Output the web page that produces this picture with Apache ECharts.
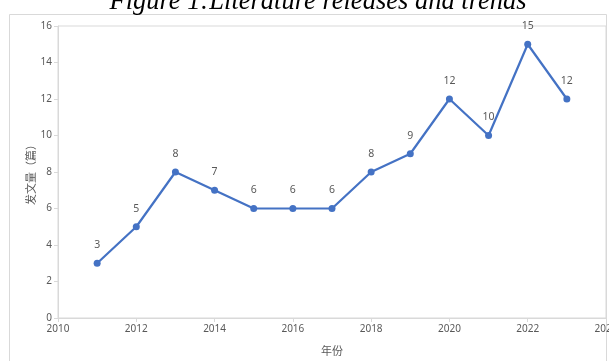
<!DOCTYPE html>
<html><head><meta charset="utf-8">
<script src="https://cdn.jsdelivr.net/npm/echarts@6/dist/echarts.min.js"></script>
<style>html,body{margin:0;padding:0;background:#fff}#c{width:609px;height:361px}</style>
</head><body><div id="c"></div>
<script>
const years = [2011, 2012, 2013, 2014, 2015, 2016, 2017, 2018, 2019, 2020, 2021, 2022, 2023];
const counts = [3, 5, 8, 7, 6, 6, 6, 8, 9, 12, 10, 15, 12];
const titleText = 'Figure 1:Literature releases and trends';
const xName = '年份';
const yName = '发文量（篇）';

const chart = echarts.init(document.getElementById('c'), null, {renderer: 'canvas'});
chart.setOption({
  animation: false,
  backgroundColor: '#fff',
  title: {
    text: titleText, left: 313, textAlign: 'center', top: -16,
    textStyle: {fontFamily: 'Liberation Serif', fontStyle: 'italic', fontWeight: 'normal', fontSize: 26.5, color: '#000'}
  },
  graphic: [{
    type: 'rect', shape: {x: 9.5, y: 14.5, width: 597, height: 360},
    style: {fill: 'none', stroke: '#d9d9d9', lineWidth: 1}, z: -1
  }],
  grid: {left: 58, right: 3, top: 26, bottom: 43, show: true, borderColor: '#d9d9d9', borderWidth: 1,
    outerBoundsMode: 'none', containLabel: false},
  xAxis: {
    type: 'value', min: 2010, max: 2024, interval: 2,
    name: xName, nameLocation: 'middle', nameGap: 27, nameMoveOverlap: false,
    nameTextStyle: {fontFamily: 'Noto Sans CJK SC', fontSize: 11, color: '#595959'},
    axisLine: {show: true, lineStyle: {color: '#d9d9d9'}},
    axisTick: {show: true, length: 4, lineStyle: {color: '#d9d9d9'}},
    axisLabel: {fontFamily: 'Noto Sans', fontSize: 10, color: '#595959', margin: 6,
      formatter: v => String(v), hideOverlap: false, showMaxLabel: true},
    splitLine: {show: false}
  },
  yAxis: {
    type: 'value', min: 0, max: 16, interval: 2,
    name: yName, nameLocation: 'middle', nameGap: 22, nameRotate: 90, nameMoveOverlap: false,
    nameTextStyle: {fontFamily: 'Noto Sans CJK SC', fontSize: 11, color: '#595959'},
    axisLine: {show: true, lineStyle: {color: '#d9d9d9'}},
    axisTick: {show: true, length: 4, lineStyle: {color: '#d9d9d9'}},
    axisLabel: {fontFamily: 'Noto Sans', fontSize: 10, color: '#595959', margin: 6},
    splitLine: {show: false}
  },
  series: [{
    type: 'line',
    data: years.map((y, i) => [y, counts[i]]),
    symbol: 'circle', symbolSize: 7,
    lineStyle: {color: '#4472C4', width: 2.2},
    itemStyle: {color: '#4472C4'},
    label: {show: true, position: 'top', distance: 9, fontFamily: 'Noto Sans', fontSize: 10.5, color: '#595959',
      formatter: p => p.value[1]}
  }]
});
</script></body></html>
